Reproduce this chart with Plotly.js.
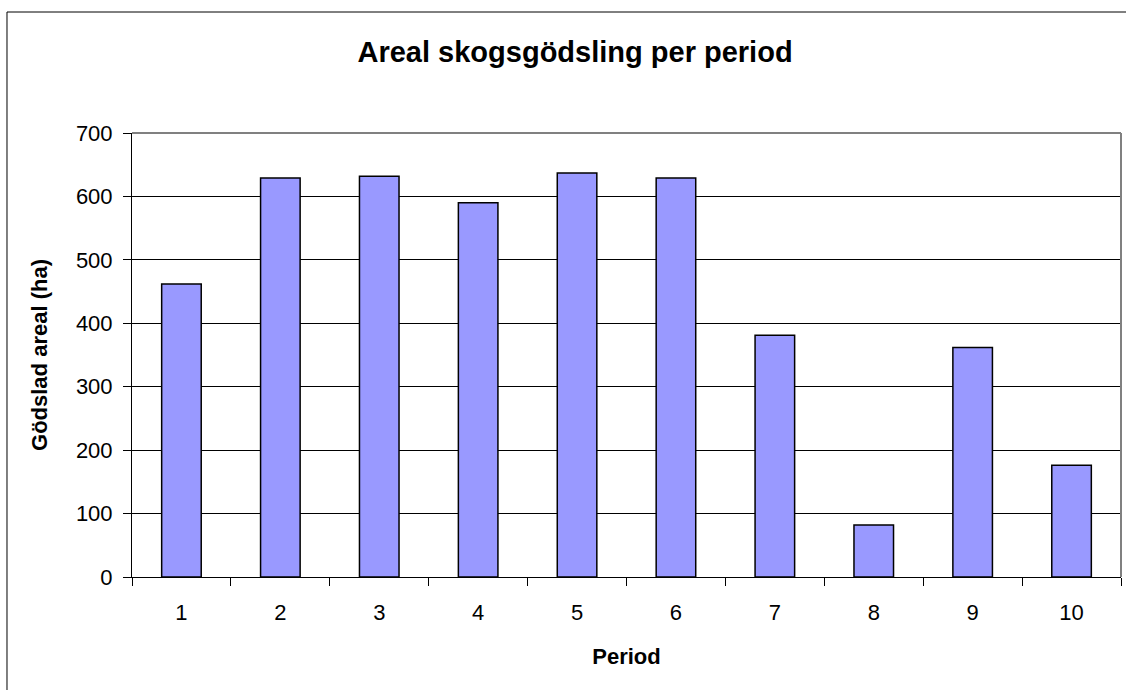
<!DOCTYPE html>
<html>
<head>
<meta charset="utf-8">
<script src="https://cdn.plot.ly/plotly-3.0.1.min.js"></script>
<style>html,body{margin:0;padding:0;background:#fff;}#chart{width:1126px;height:690px;}</style>
</head>
<body>
<div id="chart"></div>
<script>
const periods = ['1','2','3','4','5','6','7','8','9','10'];
const areal = [462, 629, 632, 590, 637, 629, 381, 82, 362, 176];
const yTicks = [0, 100, 200, 300, 400, 500, 600, 700];

const trace = {
  type: 'bar',
  x: periods,
  y: areal,
  marker: {color: '#9999FF', line: {color: '#000000', width: 1.5}},
  hoverinfo: 'x+y'
};

const layout = {
  width: 1126, height: 690,
  margin: {l: 132, r: 5, t: 133, b: 113},
  paper_bgcolor: '#ffffff', plot_bgcolor: '#ffffff',
  font: {family: 'Liberation Sans, Arial, sans-serif', color: '#000'},
  bargap: 0.6,
  showlegend: false,
  title: {text: '<b>Areal skogsgödsling per period</b>', font: {size: 29, color: '#000'},
          x: 0.448, xref: 'paper', xanchor: 'center', y: 0.925, yref: 'container', yanchor: 'middle'},
  xaxis: {
    type: 'category', tickson: 'boundaries', ticks: 'outside', ticklen: 8, tickcolor: '#000', tickwidth: 1,
    showline: true, linecolor: '#000', linewidth: 1, showgrid: false, zeroline: false,
    tickfont: {size: 22}, ticklabelstandoff: 16,
    title: {text: '<b>Period</b>', font: {size: 22}, standoff: 24}
  },
  yaxis: {
    range: [0, 700], tickvals: yTicks, ticks: 'outside', ticklen: 8, tickcolor: '#000', tickwidth: 1,
    showline: true, linecolor: '#000', linewidth: 1, showgrid: true, gridcolor: '#000', gridwidth: 1,
    zeroline: false, tickfont: {size: 22}, ticklabelstandoff: 6,
    title: {text: '<b>Gödslad areal (ha)</b>', font: {size: 22}, standoff: 22}
  },
  shapes: [
    {type: 'line', xref: 'paper', yref: 'paper', x0: 0, x1: 1, y0: 1, y1: 1, line: {color: '#808080', width: 2}},
    {type: 'line', xref: 'paper', yref: 'paper', x0: 1, x1: 1, y0: 0, y1: 1, line: {color: '#808080', width: 2}},
    {type: 'rect', xref: 'paper', yref: 'paper', x0: -0.1264, x1: 1.05, y0: -0.35, y1: 1.2725, line: {color: '#000', width: 1}, fillcolor: 'rgba(0,0,0,0)'}
  ]
};

Plotly.newPlot('chart', [trace], layout, {displayModeBar: false, staticPlot: true});
</script>
</body>
</html>
